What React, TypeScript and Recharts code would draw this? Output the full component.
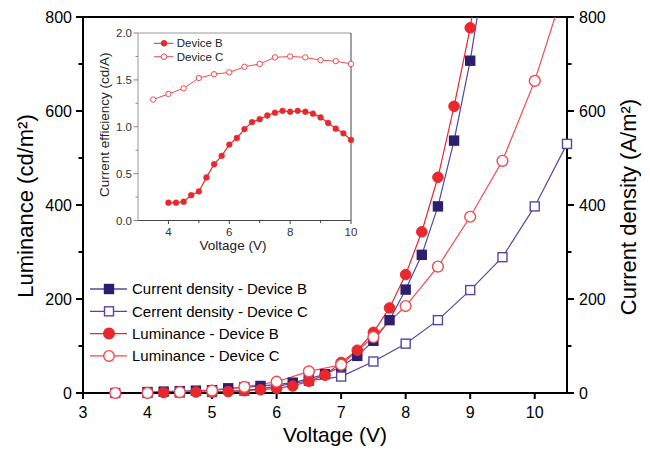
import { Legend, Line, LineChart, ReferenceLine, XAxis, YAxis } from "recharts";

const FONT = "'Liberation Sans', Arial, Helvetica, sans-serif";

const NAVY = "#2d1f6e";
const NAVY_LINE = "#5248a2";
const RED = "#e8282d";
const RED_LIGHT = "#f2494e";

// main chart: voltage (V) vs luminance / current density
const voltsB = [4, 4.25, 4.5, 4.75, 5, 5.25, 5.5, 5.75, 6, 6.25, 6.5, 6.75, 7, 7.25, 7.5, 7.75, 8, 8.25, 8.5, 8.75, 9, 9.25];
const currentB = [2, 3, 4, 5, 6, 10, 12, 15, 18, 22, 30, 40, 56, 79, 111, 155, 220, 294, 397, 537, 707, 920];
const luminanceB = [1, 1, 1, 2, 2, 3, 5, 7, 10, 15, 25, 38, 65, 91, 129, 181, 252, 343, 459, 610, 777, 1000];

const voltsC = [3.5, 4, 4.5, 5, 5.5, 6, 6.5, 7, 7.5, 8, 8.5, 9, 9.5, 10, 10.5];
const currentC = [0, 0, 1, 2, 5, 14, 26, 35, 67, 105, 155, 219, 289, 397, 530];
const luminanceC = [0, 0, 2, 5, 13, 24, 46, 60, 119, 185, 269, 375, 494, 664, 880];

const xTicks = [3, 4, 5, 6, 7, 8, 9, 10];
const yTicks = [0, 100, 200, 300, 400, 500, 600, 700, 800];

// inset: current efficiency
const effVoltsB = [4, 4.25, 4.5, 4.75, 5, 5.25, 5.5, 5.75, 6, 6.25, 6.5, 6.75, 7, 7.25, 7.5, 7.75, 8, 8.25, 8.5, 8.75, 9, 9.25, 9.5, 9.75, 10];
const effB = [0.19, 0.19, 0.2, 0.27, 0.31, 0.46, 0.6, 0.69, 0.81, 0.88, 0.975, 1.05, 1.08, 1.12, 1.15, 1.17, 1.16, 1.17, 1.16, 1.14, 1.1, 1.04, 0.98, 0.93, 0.86];
const effVoltsC = [3.5, 4, 4.5, 5, 5.5, 6, 6.5, 7, 7.5, 8, 8.5, 9, 9.5, 10];
const effC = [1.29, 1.35, 1.41, 1.52, 1.56, 1.58, 1.64, 1.67, 1.74, 1.75, 1.74, 1.71, 1.7, 1.67];

const insetXTicks = [4, 5, 6, 7, 8, 9, 10];
const insetYTicks = [0, 0.25, 0.5, 0.75, 1, 1.25, 1.5, 1.75, 2];

const legendMain = [
  { label: "Current density - Device B", shape: "square", fill: NAVY, stroke: NAVY, line: NAVY_LINE },
  { label: "Cerrent density - Device C", shape: "square", fill: "#fff", stroke: NAVY_LINE, line: NAVY_LINE },
  { label: "Luminance - Device B", shape: "circle", fill: RED, stroke: RED, line: RED },
  { label: "Luminance - Device C", shape: "circle", fill: "#fff", stroke: RED_LIGHT, line: RED_LIGHT },
];
const legendInset = [
  { label: "Device B", fill: RED, stroke: RED },
  { label: "Device C", fill: "#fff", stroke: RED_LIGHT },
];

const pts = (xs: number[], ys: number[]) => xs.map((x, i) => ({ x, y: ys[i] }));
const inRange = (xs: number[], ys: number[]) => pts(xs, ys).filter((p) => p.y <= 800);

const squareDot = (fill: string, stroke: string) => (p: any) => {
  if (p.cx == null || p.cy == null) return <g key={p.key} />;
  return (
    <rect key={p.key} x={p.cx - 4.5} y={p.cy - 4.5} width={9} height={9} fill={fill} stroke={stroke} strokeWidth={1.4} />
  );
};

function AxisTitle(props: any) {
  const { viewBox, text, kind, size, dx = 0, dy = 0, fill = "#000" } = props;
  const vb = viewBox || { x: 0, y: 0, width: 0, height: 0 };
  if (kind === "x") {
    return (
      <text x={vb.x + vb.width / 2 + dx} y={vb.y + vb.height + dy} textAnchor="middle" fontSize={size} fill={fill}>
        {text}
      </text>
    );
  }
  const cx = vb.x + dx;
  const cy = vb.y + vb.height / 2 + dy;
  return (
    <text transform={`translate(${cx},${cy}) rotate(-90)`} dy="0.35em" textAnchor="middle" fontSize={size} fill={fill}>
      {text}
    </text>
  );
}

function LeftTick(props: any) {
  const { x, y, payload } = props;
  const major = payload.value % 200 === 0;
  return (
    <g>
      <line x1={x} x2={x - (major ? 7 : 4.5)} y1={y} y2={y} stroke="#000" strokeWidth={2} />
      {major && (
        <text x={x - 11} y={y} dy="0.36em" textAnchor="end" fontSize={16} fill="#000">
          {payload.value}
        </text>
      )}
    </g>
  );
}

function RightTick(props: any) {
  const { x, y, payload } = props;
  const major = payload.value % 200 === 0;
  return (
    <g>
      <line x1={x} x2={x + (major ? 7 : 4.5)} y1={y} y2={y} stroke="#000" strokeWidth={2} />
      {major && (
        <text x={x + 12} y={y} dy="0.36em" textAnchor="start" fontSize={16} fill="#000">
          {payload.value}
        </text>
      )}
    </g>
  );
}

function InsetYTick(props: any) {
  const { x, y, payload } = props;
  const v = payload.value;
  const major = Math.abs(v * 2 - Math.round(v * 2)) < 1e-6;
  return (
    <g>
      <line x1={x} x2={x - (major ? 4.5 : 2.5)} y1={y} y2={y} stroke="#888" strokeWidth={1} />
      {major && (
        <text x={x - 6} y={y} dy="0.36em" textAnchor="end" fontSize={11.5} fill="#333">
          {v.toFixed(1)}
        </text>
      )}
    </g>
  );
}

function InsetXTick(props: any) {
  const { x, y, payload } = props;
  const major = payload.value % 2 === 0;
  return (
    <g>
      <line x1={x} x2={x} y1={y} y2={y + (major ? 3.5 : 2.5)} stroke="#444" strokeWidth={1} />
      {major && (
        <text x={x} y={y + 7} dy="0.71em" textAnchor="middle" fontSize={11.5} fill="#333">
          {payload.value}
        </text>
      )}
    </g>
  );
}

function MainLegend() {
  return (
    <svg width={270} height={92} style={{ fontFamily: FONT }}>
      {legendMain.map((r, i) => {
        const cy = 13 + i * 22.3;
        return (
          <g key={r.label}>
            <line x1={5} x2={42} y1={cy} y2={cy} stroke={r.line} strokeWidth={1.3} />
            {r.shape === "square" ? (
              <rect x={19.5} y={cy - 4.5} width={9} height={9} fill={r.fill} stroke={r.stroke} strokeWidth={1.4} />
            ) : (
              <circle cx={24} cy={cy} r={5.3} fill={r.fill} stroke={r.stroke} strokeWidth={1.4} />
            )}
            <text x={47} y={cy} dy="0.35em" fontSize={15} fill="#000">
              {r.label}
            </text>
          </g>
        );
      })}
    </svg>
  );
}

function InsetLegend() {
  return (
    <svg width={120} height={30} style={{ fontFamily: FONT }}>
      {legendInset.map((r, i) => {
        const cy = 8.3 + i * 13.4;
        return (
          <g key={r.label}>
            <line x1={4} x2={23.5} y1={cy} y2={cy} stroke={r.stroke} strokeWidth={1} />
            <circle cx={14} cy={cy} r={2.8} fill={r.fill} stroke={r.stroke} strokeWidth={1} />
            <text x={26.7} y={cy} dy="0.35em" fontSize={11.5} fill="#222">
              {r.label}
            </text>
          </g>
        );
      })}
    </svg>
  );
}

function Inset() {
  return (
    <div style={{ position: "absolute", left: 90, top: 20, width: 275, height: 240 }}>
      <LineChart width={275} height={240} margin={{ top: 13, right: 14, bottom: 14.5, left: 0 }}>
        <XAxis
          dataKey="x"
          type="number"
          domain={[3, 10]}
          ticks={insetXTicks}
          interval={0}
          height={25}
          tickSize={0}
          tickMargin={0}
          tickLine={false}
          axisLine={{ stroke: "#444", strokeWidth: 1 }}
          tick={<InsetXTick />}
          label={<AxisTitle kind="x" text="Voltage (V)" size={13.5} dx={-11.5} dy={4.5} fill="#222" />}
        />
        <YAxis
          type="number"
          domain={[0, 2]}
          ticks={insetYTicks}
          interval={0}
          width={48}
          tickSize={0}
          tickMargin={0}
          tickLine={false}
          axisLine={{ stroke: "#999", strokeWidth: 1 }}
          tick={<InsetYTick />}
          label={<AxisTitle kind="y" text="Current efficiency (cd/A)" size={13.5} dx={14} dy={-2} fill="#222" />}
        />
        <ReferenceLine y={2} stroke="#999" strokeWidth={1} />
        <ReferenceLine x={10} stroke="#444" strokeWidth={1} />
        <Legend
          layout="vertical"
          align="center"
          verticalAlign="middle"
          content={InsetLegend}
          wrapperStyle={{ left: 60, top: 15, width: 120 }}
        />
        <Line
          data={pts(effVoltsC, effC)}
          dataKey="y"
          stroke={RED_LIGHT}
          strokeWidth={1}
          dot={{ r: 2.7, fill: "#fff", stroke: RED_LIGHT, strokeWidth: 1 }}
          activeDot={false}
          isAnimationActive={false}
        />
        <Line
          data={pts(effVoltsB, effB)}
          dataKey="y"
          stroke={RED}
          strokeWidth={1.2}
          dot={{ r: 2.9, fill: RED, stroke: RED, strokeWidth: 0.5 }}
          activeDot={false}
          isAnimationActive={false}
        />
      </LineChart>
    </div>
  );
}

export default function App() {
  return (
    <div style={{ position: "absolute", left: 0, top: 0, width: 650, height: 451, fontFamily: FONT, background: "#fff" }}>
      <LineChart width={650} height={451} margin={{ top: 17, right: 23, bottom: 28, left: 23 }}>
        <XAxis
          dataKey="x"
          type="number"
          domain={[3, 10.5]}
          ticks={xTicks}
          interval={0}
          height={30}
          tickSize={6}
          tickMargin={8}
          axisLine={{ stroke: "#000", strokeWidth: 2 }}
          tickLine={{ stroke: "#000", strokeWidth: 2 }}
          tick={{ fill: "#000", fontSize: 16 }}
          label={<AxisTitle kind="x" text="Voltage (V)" size={21} dx={10} dy={19} />}
        />
        <YAxis
          yAxisId="left"
          type="number"
          domain={[0, 800]}
          ticks={yTicks}
          interval={0}
          width={60}
          tickSize={0}
          tickMargin={0}
          tickLine={false}
          axisLine={{ stroke: "#000", strokeWidth: 2 }}
          tick={<LeftTick />}
          label={<AxisTitle kind="y" text="Luminance (cd/m²)" size={22} dx={2} dy={1} />}
        />
        <YAxis
          yAxisId="right"
          orientation="right"
          type="number"
          domain={[0, 800]}
          ticks={yTicks}
          interval={0}
          width={60}
          tickSize={0}
          tickMargin={0}
          tickLine={false}
          axisLine={{ stroke: "#000", strokeWidth: 2 }}
          tick={<RightTick />}
          label={<AxisTitle kind="y" text="Current density (A/m²)" size={22} dx={61} dy={2} />}
        />
        <YAxis yAxisId="clip" hide orientation="right" width={0} type="number" domain={[0, 800]} allowDataOverflow />
        <ReferenceLine yAxisId="left" y={800} stroke="#000" strokeWidth={2} />
        <Legend
          layout="vertical"
          align="center"
          verticalAlign="middle"
          content={MainLegend}
          wrapperStyle={{ left: 85, top: 276, width: 270 }}
        />

        {/* connecting lines, clipped at the top of the frame */}
        <Line yAxisId="clip" data={pts(voltsB, currentB)} dataKey="y" stroke={NAVY_LINE} strokeWidth={1.2} dot={false} activeDot={false} isAnimationActive={false} />
        <Line yAxisId="clip" data={pts(voltsC, currentC)} dataKey="y" stroke={NAVY_LINE} strokeWidth={1.2} dot={false} activeDot={false} isAnimationActive={false} />
        <Line yAxisId="clip" data={pts(voltsB, luminanceB)} dataKey="y" stroke={RED} strokeWidth={1.2} dot={false} activeDot={false} isAnimationActive={false} />
        <Line yAxisId="clip" data={pts(voltsC, luminanceC)} dataKey="y" stroke={RED_LIGHT} strokeWidth={1.2} dot={false} activeDot={false} isAnimationActive={false} />

        {/* markers */}
        <Line yAxisId="right" data={inRange(voltsB, currentB)} dataKey="y" stroke="none" dot={squareDot(NAVY, NAVY)} activeDot={false} isAnimationActive={false} />
        <Line yAxisId="right" data={inRange(voltsC, currentC)} dataKey="y" stroke="none" dot={squareDot("#fff", NAVY_LINE)} activeDot={false} isAnimationActive={false} />
        <Line yAxisId="left" data={inRange(voltsB, luminanceB)} dataKey="y" stroke="none" dot={{ r: 5.3, fill: RED, stroke: RED, strokeWidth: 1 }} activeDot={false} isAnimationActive={false} />
        <Line yAxisId="left" data={inRange(voltsC, luminanceC)} dataKey="y" stroke="none" dot={{ r: 5.4, fill: "#fff", stroke: RED_LIGHT, strokeWidth: 1.4 }} activeDot={false} isAnimationActive={false} />
      </LineChart>
      <Inset />
    </div>
  );
}
